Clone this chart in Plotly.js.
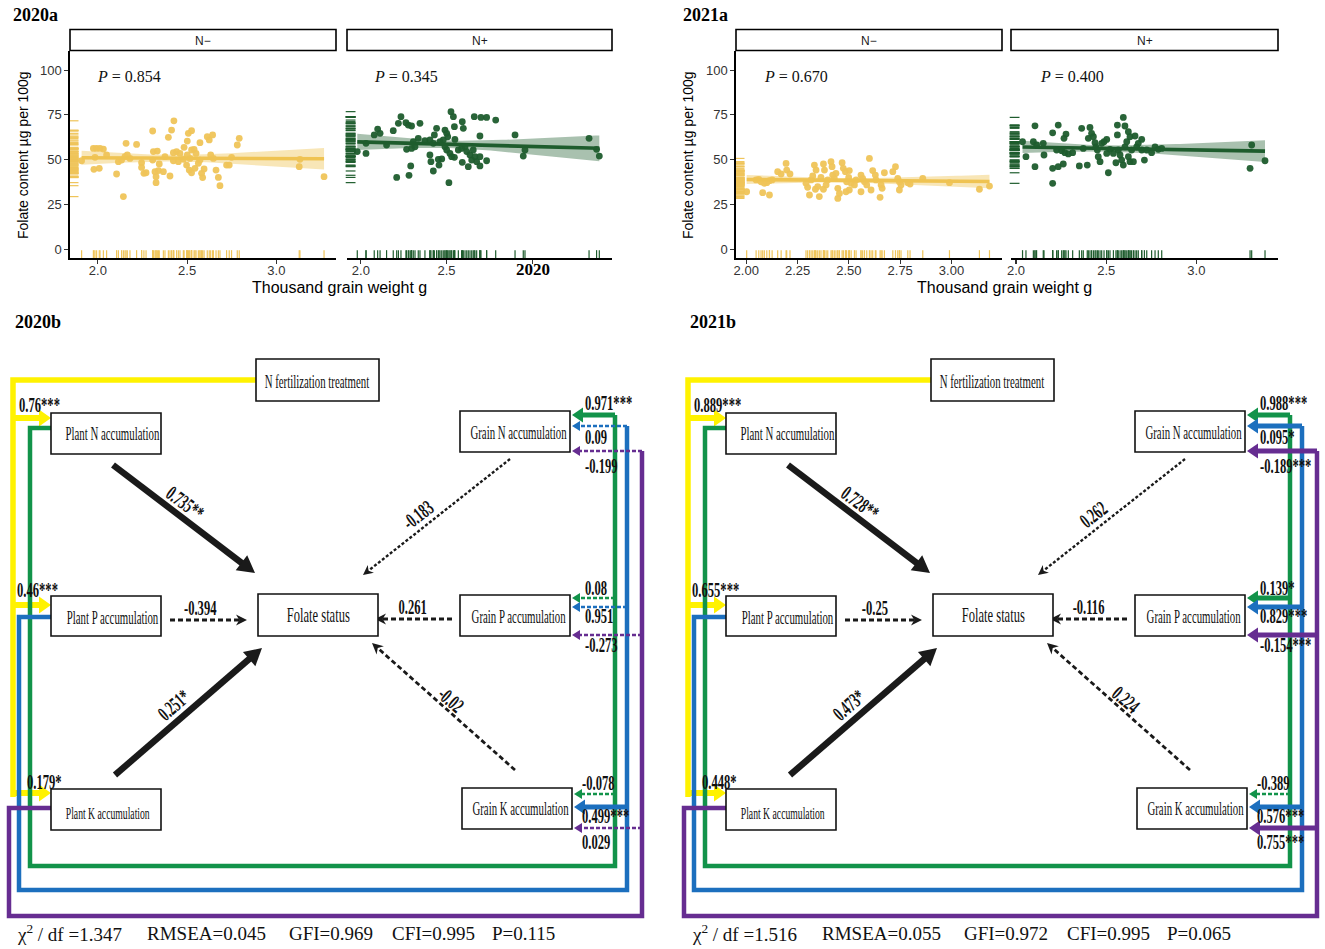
<!DOCTYPE html>
<html>
<head>
<meta charset="utf-8">
<script src="https://cdn.plot.ly/plotly-3.0.1.min.js"></script>
<style>html,body{margin:0;padding:0;background:#fff;overflow:hidden}#chart{width:1325px;height:949px}</style>
</head>
<body>
<div id="chart"></div>
<script>
// ================= DATA =================
const panelNames = ["N\u2212", "N+"];
const yearLabels = ["2020a", "2021a", "2020b", "2021b"];
const pValues2020 = ["0.854", "0.345"];
const pValues2021 = ["0.670", "0.400"];
const yTicks = [0, 25, 50, 75, 100];
const xTicks2020Nm = [2.0, 2.5, 3.0];
const xTickText2020Nm = ["2.0", "2.5", "3.0"];
const xTicks2020Np = [2.0, 2.5, 3.0];
const xTickText2020Np = ["2.0", "2.5", ""];   // the 3.0 label is covered by the stray "2020" in the source figure
const xTicks2021Nm = [2.00, 2.25, 2.50, 2.75, 3.00];
const xTickText2021Nm = ["2.00", "2.25", "2.50", "2.75", "3.00"];
const xTicks2021Np = [2.0, 2.5, 3.0];
const xTickText2021Np = ["2.0", "2.5", "3.0"];
const xTitle = "Thousand grain weight g";
const yTitle = "Folate content \u00b5g per 100g";

// 2020, N-  (thousand grain weight g, folate µg/100g)
const tgw2020Nm = [1.909,1.975,1.993,2.012,2.031,1.984,2.049,1.978,2.008,2.105,
 2.143,2.158,2.115,2.133,2.152,2.165,2.180,2.217,2.245,2.245,
 2.258,2.270,2.307,2.311,2.333,2.307,2.344,2.320,2.339,2.367,
 2.326,2.326,2.404,2.395,2.413,2.426,2.376,2.423,2.441,2.460,
 2.423,2.451,2.479,2.483,2.501,2.507,2.525,2.501,2.516,2.525,
 2.539,2.550,2.497,2.512,2.525,2.544,2.563,2.572,2.581,2.587,
 2.595,2.572,2.613,2.624,2.643,2.632,2.647,2.662,2.675,2.684,
 2.721,2.736,2.749,2.781,2.792,3.132,3.128,3.267];
const fol2020Nm = [49.4,56.3,56.3,56.3,55.9,51.3,52.6,44.6,45.2,42.0,
 29.4,59.1,48.9,49.8,51.7,52.6,50.7,58.5,48.3,45.7,
 42.4,42.7,66.0,54.5,54.8,49.8,47.6,43.3,43.9,43.3,
 40.5,37.2,40.9,62.5,66.5,71.7,51.7,53.9,54.5,53.5,
 49.4,48.9,50.2,56.9,60.4,64.7,66.2,52.6,50.7,55.4,
 55.8,53.5,47.0,44.2,42.7,45.2,48.0,49.8,42.4,40.0,
 44.8,59.5,62.8,61.0,63.8,52.6,50.7,44.2,40.1,35.5,
 47.0,47.0,51.3,58.2,61.9,50.2,46.1,40.5];
// 2020, N+
const tgw2020Np = [1.979,2.030,2.030,2.078,2.098,2.112,2.150,2.189,2.219,2.234,
 2.263,2.277,2.296,2.345,2.209,2.281,2.291,2.267,2.296,2.316,
 2.306,2.335,2.374,2.403,2.429,2.442,2.403,2.409,2.423,2.456,
 2.472,2.452,2.423,2.462,2.481,2.491,2.501,2.507,2.514,2.526,
 2.540,2.546,2.491,2.501,2.520,2.530,2.546,2.549,2.569,2.588,
 2.608,2.592,2.592,2.598,2.618,2.627,2.637,2.647,2.656,2.666,
 2.676,2.695,2.695,2.695,2.662,2.701,2.734,2.787,2.734,2.900,
 2.948,2.958,3.332,3.376,3.392];
const fol2020Np = [54.5,53.5,59.1,63.8,67.1,64.7,58.2,66.2,70.3,74.0,
 70.6,69.3,68.8,70.3,40.1,41.3,46.5,55.8,56.3,57.2,
 60.0,61.9,60.6,61.0,63.8,67.5,52.6,48.9,43.7,47.0,
 50.4,50.2,59.1,60.0,61.0,66.5,64.7,62.8,37.2,76.8,
 74.0,68.4,57.2,55.4,53.5,51.7,51.3,61.3,55.4,56.3,
 57.2,48.5,71.2,67.5,54.5,46.1,52.6,49.8,55.4,51.7,
 48.9,63.2,46.5,51.7,74.0,73.6,73.6,72.1,49.4,63.8,
 52.0,55.4,61.9,55.8,52.0];
// 2021, N-
const tgw2021Nm = [2.002,2.048,2.061,2.072,2.088,2.100,2.113,2.126,2.080,2.113,
 2.153,2.170,2.194,2.197,2.213,2.291,2.299,2.308,2.316,2.324,
 2.332,2.340,2.337,2.348,2.356,2.364,2.376,2.381,2.376,2.389,
 2.397,2.413,2.418,2.421,2.429,2.437,2.446,2.446,2.454,2.467,
 2.473,2.483,2.489,2.499,2.502,2.511,2.502,2.486,2.527,2.535,
 2.559,2.567,2.559,2.576,2.587,2.600,2.608,2.616,2.629,2.632,
 2.652,2.657,2.662,2.673,2.714,2.727,2.738,2.746,2.754,2.746,
 2.787,2.798,2.860,2.990,3.136,3.185];
const fol2021Nm = [32.1,38.7,39.0,37.7,36.8,37.2,38.3,38.7,31.6,30.3,
 43.3,42.0,47.9,44.2,42.0,36.8,34.6,30.3,38.7,40.9,
 47.0,44.2,33.5,35.0,29.4,40.1,47.6,44.2,33.5,35.9,
 38.7,48.9,46.1,41.4,39.6,42.4,34.0,28.4,31.2,48.3,
 45.2,43.3,37.7,40.1,43.9,36.8,33.1,32.1,35.9,38.7,
 41.4,39.6,32.1,37.7,35.9,50.7,33.1,43.9,41.4,38.7,
 29.0,35.9,34.0,42.7,43.3,46.1,39.6,33.1,35.9,37.7,
 37.2,36.4,39.6,37.2,33.5,35.3];
// 2021, N+
const tgw2021Np = [2.036,2.055,2.096,2.105,2.105,2.114,2.151,2.155,2.203,2.203,
 2.203,2.234,2.234,2.262,2.266,2.277,2.225,2.253,2.271,2.290,
 2.314,2.351,2.364,2.373,2.395,2.410,2.401,2.419,2.429,2.438,
 2.443,2.451,2.456,2.466,2.475,2.488,2.503,2.512,2.503,2.521,
 2.540,2.554,2.562,2.562,2.595,2.604,2.567,2.577,2.586,2.595,
 2.604,2.614,2.623,2.632,2.623,2.632,2.641,2.651,2.660,2.669,
 2.678,2.697,2.697,2.712,2.725,2.752,2.771,2.789,2.808,3.307,
 3.298,3.381];
const fol2021Np = [60.0,51.7,60.0,68.9,46.1,58.2,59.1,52.6,65.0,45.2,
 36.8,69.3,46.1,47.6,61.9,64.3,55.4,55.0,53.9,53.2,
 53.9,46.5,67.5,56.3,47.0,68.0,61.9,64.7,62.8,59.5,
 57.2,55.4,51.7,48.9,59.1,60.0,61.3,42.7,53.5,55.8,
 53.5,48.3,69.3,63.8,73.6,68.8,55.4,52.6,49.8,47.0,
 57.2,60.0,65.6,62.8,51.7,48.9,55.4,48.9,63.2,57.2,
 59.1,61.3,55.4,49.8,55.4,53.9,57.2,55.8,56.3,58.2,
 45.2,49.4];

// Path diagram (SEM) content
const nodeNames = ["N fertilization treatment","Plant N accumulation","Plant P accumulation","Plant K accumulation",
 "Folate status","Grain N accumulation","Grain P accumulation","Grain K accumulation"];
// order: Fert->PlantN, Fert->PlantP, Fert->PlantK, PlantN->Folate, PlantP->Folate, PlantK->Folate,
// GrainN->Folate, GrainP->Folate, GrainK->Folate, PlantN->GrainN, PlantP->GrainN, PlantK->GrainN,
// PlantN->GrainP, PlantP->GrainP, PlantK->GrainP, PlantN->GrainK, PlantP->GrainK, PlantK->GrainK
const pathCoef2020 = ["0.76***","0.46***","0.179*","0.735**","-0.394","0.251*","-0.183","0.261","-0.02",
 "0.971***","0.09","-0.199","0.08","0.951","-0.273","-0.078","0.499***","0.029"];
const pathCoef2021 = ["0.889***","0.655***","0.448*","0.728**","-0.25","0.473*","0.262","-0.116","0.224",
 "0.988***","0.095*","-0.189***","0.139*","0.829***","-0.154***","-0.389","0.576***","0.755***"];
const fitNames = ["\u03c7<sup>2</sup> / df ", "RMSEA", "GFI", "CFI", "P"];
const fit2020 = ["1.347", "0.045", "0.969", "0.995", "0.115"];
const fit2021 = ["1.516", "0.055", "0.972", "0.995", "0.065"];

// ================= LAYOUT HELPERS =================
const W = 1325, H = 949;
const PX = v => v / W, PY = v => 1 - v / H;
const SERIF = '"Liberation Serif", "Times New Roman", serif';
const SANS = '"Liberation Sans", Arial, sans-serif';
const traces = [], shapes = [], annos = [], condense = [];
const layout = {
  width: W, height: H, margin: {l:0, r:0, t:0, b:0},
  paper_bgcolor: '#fff', plot_bgcolor: 'rgba(0,0,0,0)', showlegend: false
};

function ann(x, y, text, opt) {
  const a = Object.assign({xref:'paper', yref:'paper', x:PX(x), y:PY(y), text:text, showarrow:false,
    xanchor:'center', yanchor:'middle', font:{family:SERIF, size:14, color:'#000'}}, opt || {});
  annos.push(a);
  return annos.length - 1;
}
function cann(x, y, text, opt, s) {
  const i = ann(x, y, text, opt);
  condense.push({i:i, s:s, anchor:(opt && opt.xanchor === 'left') ? 'left' : 'center'});
}

// ================= SCATTER PANELS =================
const PAL = {
  yel: {pt:'#EFC459', line:'#EFC352', band:'rgba(240,200,95,0.45)'},
  grn: {pt:'#1E5C2D', line:'#1E5C2D', band:'rgba(40,100,55,0.40)'}
};
const YR = [-4.85, 110.8];
const YDOM = [50.7, 258];
const panels = [
  {n:'',  x:tgw2020Nm, y:fol2020Nm, dom:[70,336],   xr:[1.844,3.334], tv:xTicks2020Nm, tt:xTickText2020Nm, c:'yel', showY:true,  p:pValues2020[0], pX:95,   strip:panelNames[0]},
  {n:'2', x:tgw2020Np, y:fol2020Np, dom:[347,612],  xr:[1.919,3.466], tv:xTicks2020Np, tt:xTickText2020Np, c:'grn', showY:false, p:pValues2020[1], pX:372,  strip:panelNames[1]},
  {n:'3', x:tgw2021Nm, y:fol2021Nm, dom:[736,1002], xr:[1.950,3.246], tv:xTicks2021Nm, tt:xTickText2021Nm, c:'yel', showY:true,  p:pValues2021[0], pX:762,  strip:panelNames[0]},
  {n:'4', x:tgw2021Np, y:fol2021Np, dom:[1011,1278],xr:[1.972,3.453], tv:xTicks2021Np, tt:xTickText2021Np, c:'grn', showY:false, p:pValues2021[1], pX:1038, strip:panelNames[1]}
];

function linfit(x, y) {
  const n = x.length;
  let mx = 0, my = 0;
  for (let i = 0; i < n; i++) { mx += x[i]; my += y[i]; }
  mx /= n; my /= n;
  let sxx = 0, sxy = 0;
  for (let i = 0; i < n; i++) { sxx += (x[i]-mx)*(x[i]-mx); sxy += (x[i]-mx)*(y[i]-my); }
  const b = sxy / sxx, a = my - b * mx;
  let sse = 0;
  for (let i = 0; i < n; i++) { const r = y[i] - a - b*x[i]; sse += r*r; }
  const s = Math.sqrt(sse / (n - 2));
  const t = 1.96 + 2.37 / (n - 2);
  const lo = Math.min.apply(null, x), hi = Math.max.apply(null, x);
  const xs = [];
  for (let i = 0; i <= 60; i++) xs.push(lo + (hi - lo) * i / 60);
  const yh = xs.map(v => a + b * v);
  const se = xs.map(v => t * s * Math.sqrt(1/n + (v-mx)*(v-mx)/sxx));
  return {xs:xs, yh:yh, up:yh.map((v,i)=>v+se[i]), dn:yh.map((v,i)=>v-se[i])};
}

panels.forEach(p => {
  const xa = 'x' + p.n, ya = 'y' + p.n, col = PAL[p.c];
  const f = linfit(p.x, p.y);
  traces.push({type:'scatter', mode:'lines', x:f.xs.concat(f.xs.slice().reverse()),
    y:f.up.concat(f.dn.slice().reverse()), fill:'toself', fillcolor:col.band, line:{width:0},
    xaxis:xa, yaxis:ya, hoverinfo:'skip'});
  traces.push({type:'scatter', mode:'markers', x:p.x, y:p.y, marker:{color:col.pt, size:6.8, opacity:0.95},
    xaxis:xa, yaxis:ya, hoverinfo:'skip'});
  traces.push({type:'scatter', mode:'lines', x:f.xs, y:f.yh, line:{color:col.line, width:3.6},
    xaxis:xa, yaxis:ya, hoverinfo:'skip'});
  const rugY = YR[0] + (YR[1]-YR[0]) * 3.3 / (YDOM[1]-YDOM[0]);
  traces.push({type:'scatter', mode:'markers', x:p.x, y:p.x.map(() => rugY), cliponaxis:false,
    marker:{symbol:'line-ns-open', size:6.5, color:col.pt, line:{width:1.2, color:col.pt}},
    xaxis:xa, yaxis:ya, hoverinfo:'skip'});
  const rugX = p.xr[0] + (p.xr[1]-p.xr[0]) * 3.6 / (p.dom[1]-p.dom[0]);
  traces.push({type:'scatter', mode:'markers', x:p.y.map(() => rugX), y:p.y, cliponaxis:false,
    marker:{symbol:'line-ew-open', size:7, color:col.pt, line:{width:1.2, color:col.pt}},
    xaxis:xa, yaxis:ya, hoverinfo:'skip'});

  layout['xaxis' + p.n] = {domain:[PX(p.dom[0]), PX(p.dom[1])], range:p.xr, anchor:ya,
    showgrid:false, zeroline:false, showline:true, linecolor:'#000', linewidth:1.6,
    ticks:'outside', ticklen:4, tickwidth:1.1, tickcolor:'#333', tickvals:p.tv, ticktext:p.tt,
    ticklabelstandoff:-4, tickfont:{family:SANS, size:13, color:'#333'}, fixedrange:true};
  layout['yaxis' + p.n] = {domain:[PY(YDOM[1]), PY(YDOM[0])], range:YR, anchor:xa,
    showgrid:false, zeroline:false, showline:p.showY, linecolor:'#000', linewidth:1.6,
    ticks:p.showY ? 'outside' : '', ticklen:4, tickwidth:1.1, tickcolor:'#333', tickvals:yTicks,
    showticklabels:p.showY, tickfont:{family:SANS, size:13, color:'#333'}, fixedrange:true};

  // facet strip
  shapes.push({type:'rect', xref:'paper', yref:'paper', x0:PX(p.dom[0]), x1:PX(p.dom[1]),
    y0:PY(50.5), y1:PY(29.5), line:{color:'#000', width:1.6}, fillcolor:'#fff'});
  ann((p.dom[0]+p.dom[1])/2, 40.5, p.strip, {font:{family:SANS, size:12, color:'#1a1a1a'}});
  // P annotation
  ann(p.pX, 76, '<i>P</i> = ' + p.p, {xanchor:'left', font:{family:SERIF, size:16, color:'#111'}});
});

// axis titles and panel letters (top)
ann(23, 155, yTitle, {textangle:-90, font:{family:SANS, size:14, color:'#000'}});
ann(688, 155, yTitle, {textangle:-90, font:{family:SANS, size:14, color:'#000'}});
ann(339, 287, xTitle, {font:{family:SANS, size:16, color:'#000'}});
ann(1004, 287, xTitle, {font:{family:SANS, size:16, color:'#000'}});
ann(11, 15, '<b>' + yearLabels[0] + '</b>', {xanchor:'left', font:{family:SERIF, size:18, color:'#000'}});
ann(681, 15, '<b>' + yearLabels[1] + '</b>', {xanchor:'left', font:{family:SERIF, size:18, color:'#000'}});
ann(533, 269, '<b>2020</b>', {font:{family:SERIF, size:17, color:'#000'}});
ann(13, 322, '<b>' + yearLabels[2] + '</b>', {xanchor:'left', font:{family:SERIF, size:18, color:'#000'}});
ann(688, 322, '<b>' + yearLabels[3] + '</b>', {xanchor:'left', font:{family:SERIF, size:18, color:'#000'}});

// ================= PATH DIAGRAMS =================
const COL = {yellow:'#FFF200', green:'#12934A', blue:'#1C6FBE', purple:'#662D91', black:'#1a1a1a'};
const ST = {
  yellow: {color:COL.yellow, w:6, L:12, Wd:17},
  colSolid: c => ({color:c, w:5, L:11, Wd:15}),
  colDash: c => ({color:c, w:2.6, dash:'4px,2px', L:8, Wd:10}),
  blkSolid: {color:COL.black, w:6.5, L:17, Wd:19},
  blkDash: {color:COL.black, w:2.8, dash:'5px,3px', L:11, Wd:11, notch:0.3},
  blkDot: {color:COL.black, w:2.4, dash:'3px,2px', L:10, Wd:10, notch:0.3}
};
const D = {
  boxes: [ // x0,y0,x1,y1, text cx, text cy, font size
    [256,359,379,401, 317,381,19],
    [51,413,161,454, 112,433,19],
    [51,596,161,636, 112,617,19],
    [51,789,161,830, 108,813,17],
    [258,594,378,636, 318,614,22],
    [460,411,570,452, 518,432,19],
    [460,595,570,636, 518,616,19],
    [462,788,572,829, 520,808,19]
  ],
  yellow: [[256,380],[13,380],[13,797]],
  yellowY: [418, 605, 793],
  trunks: [
    {c:'green',  pts:[[51,428],[30,428],[30,866],[615,866],[615,415]], x:615, ys:[415,598,794]},
    {c:'blue',   pts:[[51,617],[19,617],[19,890],[627,890],[627,426]], x:627, ys:[426,607,807]},
    {c:'purple', pts:[[51,808],[9,808],[9,916],[642,916],[642,451]],   x:642, ys:[451,635,828]}
  ],
  tipX: [572, 572, 574],
  central: [[113,465,255,573],[170,620,247,620],[115,775,262,648],[510,459,363,575],[452,619,375,619],[515,770,372,643]],
  centralLbl: [[185,503,37],[200,608,0],[174,705,-41],[418,515,-38],[413,607,0],[451,700,41]],
  leftLbl: [[17,405],[15,590],[25,782]],
  rightLbl: [[583,403],[583,437],[583,466],[583,588],[583,616],[583,645],[580,783],[580,816],[580,842]],
  fitX: [15,145,287,390,490], fitY: 933
};

function P(x, y) { return PX(x).toFixed(6) + ',' + PY(y).toFixed(6); }
function polyline(pts, color, w, dash) {
  shapes.push({type:'path', xref:'paper', yref:'paper', path:'M' + pts.map(p => P(p[0], p[1])).join('L'),
    line:{color:color, width:w, dash:dash || 'solid'}, fillcolor:'rgba(0,0,0,0)'});
}
function head(tx, ty, ux, uy, L, Wd, notch, color) {
  const bx = tx - ux*L, by = ty - uy*L, qx = -uy, qy = ux;
  const a = [bx + qx*Wd/2, by + qy*Wd/2], b = [bx - qx*Wd/2, by - qy*Wd/2];
  const m = [tx - ux*L*(1-notch), ty - uy*L*(1-notch)];
  shapes.push({type:'path', xref:'paper', yref:'paper',
    path:'M' + P(tx,ty) + 'L' + P(a[0],a[1]) + 'L' + P(m[0],m[1]) + 'L' + P(b[0],b[1]) + 'Z',
    fillcolor:color, line:{width:0}});
}
function arrow(x0, y0, x1, y1, st) {
  const dx = x1-x0, dy = y1-y0, len = Math.hypot(dx, dy), ux = dx/len, uy = dy/len;
  polyline([[x0,y0],[x1 - ux*st.L*0.7, y1 - uy*st.L*0.7]], st.color, st.w, st.dash);
  head(x1, y1, ux, uy, st.L, st.Wd, st.notch || 0, st.color);
}
const isSig = c => /\*/.test(c);
const LBLFONT = {family:SERIF, size:21, color:'#111'};

function drawDiagram(off, coef, fit) {
  const o = v => v + off;
  polyline(D.yellow.map(p => [o(p[0]), p[1]]), COL.yellow, 5.5);
  D.yellowY.forEach(y => arrow(o(13), y, o(51), y, ST.yellow));
  D.trunks.forEach(t => polyline(t.pts.map(p => [o(p[0]), p[1]]), COL[t.c], 4.5));
  for (let g = 0; g < 3; g++) for (let k = 0; k < 3; k++) {
    const idx = 9 + g*3 + k, t = D.trunks[k], y = t.ys[g];
    arrow(o(t.x), y, o(D.tipX[g]), y, isSig(coef[idx]) ? ST.colSolid(COL[t.c]) : ST.colDash(COL[t.c]));
  }
  D.central.forEach((c, i) => {
    const st = isSig(coef[3+i]) ? ST.blkSolid : (i === 3 ? ST.blkDot : ST.blkDash);
    arrow(o(c[0]), c[1], o(c[2]), c[3], st);
  });
  D.boxes.forEach((b, i) => {
    shapes.push({type:'rect', xref:'paper', yref:'paper', x0:PX(o(b[0])), x1:PX(o(b[2])),
      y0:PY(b[3]), y1:PY(b[1]), line:{color:'#111', width:1.6}, fillcolor:'#fff'});
    cann(o(b[4]), b[5], nodeNames[i], {font:{family:SERIF, size:b[6], color:'#111'}}, 0.57);
  });
  D.leftLbl.forEach((l, i) => cann(o(l[0]), l[1], '<b>' + coef[i] + '</b>', {xanchor:'left', font:LBLFONT}, 0.6));
  D.centralLbl.forEach((l, i) => cann(o(l[0]), l[1], '<b>' + coef[3+i] + '</b>', {textangle:l[2], font:LBLFONT}, 0.6));
  D.rightLbl.forEach((l, i) => cann(o(l[0]), l[1], '<b>' + coef[9+i] + '</b>', {xanchor:'left', font:LBLFONT}, 0.6));
  fitNames.forEach((nm, i) => ann(o(D.fitX[i]), D.fitY, nm + '=' + fit[i],
    {xanchor:'left', font:{family:SERIF, size:19, color:'#111'}}));
}
drawDiagram(0, pathCoef2020, fit2020);
drawDiagram(675, pathCoef2021, fit2021);

layout.shapes = shapes;
layout.annotations = annos;

const gd = document.getElementById('chart');
Plotly.newPlot(gd, traces, layout, {staticPlot:true, displayModeBar:false}).then(() => {
  condense.forEach(c => {
    const g = gd.querySelector('.annotation[data-index="' + c.i + '"]');
    if (!g) return;
    const t = g.querySelector('text.annotation-text') || g.querySelector('text');
    if (!t) return;
    const b = t.getBBox();
    const px = c.anchor === 'left' ? b.x : b.x + b.width/2;
    t.setAttribute('transform', 'translate(' + px + ',0) scale(' + c.s + ',1) translate(' + (-px) + ',0)');
  });
});
</script>
</body>
</html>
